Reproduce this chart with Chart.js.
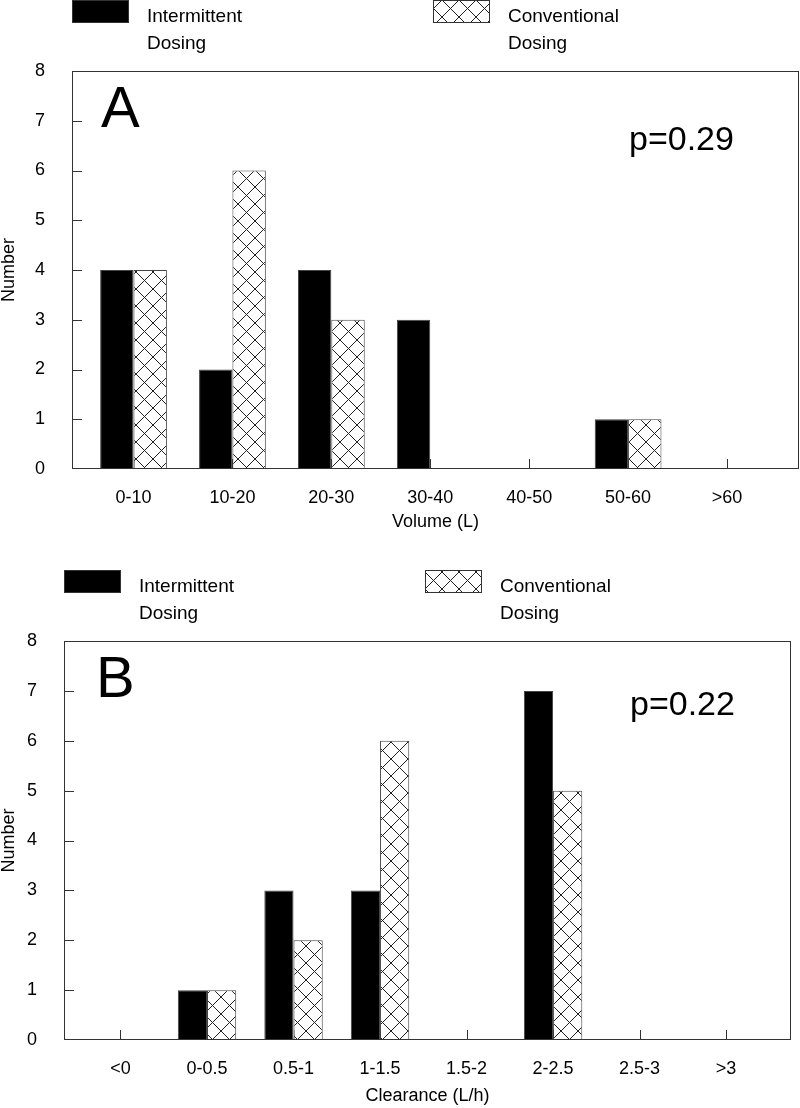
<!DOCTYPE html>
<html>
<head>
<meta charset="utf-8">
<script src="https://cdn.jsdelivr.net/npm/chart.js@4.4.1/dist/chart.umd.min.js"></script>
<style>
  html, body { margin: 0; padding: 0; background: #fff; }
  canvas { display: block; }
</style>
</head>
<body>
<canvas id="chartA" width="800" height="555"></canvas>
<canvas id="chartB" width="800" height="553"></canvas>
<script>
// Panel A - volume
const volumeLabels = ['0-10', '10-20', '20-30', '30-40', '40-50', '50-60', '>60'];
const volumeIntermittent = [4, 2, 4, 3, 0, 1, 0];
const volumeConventional = [4, 6, 3, 0, 0, 1, 0];

// Panel B - clearance
const clearanceLabels = ['<0', '0-0.5', '0.5-1', '1-1.5', '1.5-2', '2-2.5', '2.5-3', '>3'];
const clearanceIntermittent = [0, 1, 3, 3, 0, 7, 0, 0];
const clearanceConventional = [0, 1, 2, 6, 0, 5, 0, 0];

const yTicks = [0, 1, 2, 3, 4, 5, 6, 7, 8];
const seriesNames = [['Intermittent', 'Dosing'], ['Conventional', 'Dosing']];

const FONT = '"Liberation Sans", Arial, sans-serif';
const LINE = '#333';

function makeHatch() {
  const tile = document.createElement('canvas');
  tile.width = 17;
  tile.height = 17;
  const g = tile.getContext('2d');
  g.fillStyle = '#fff';
  g.fillRect(0, 0, 17, 17);
  g.strokeStyle = '#222';
  g.lineWidth = 1;
  g.beginPath();
  g.moveTo(-1, -1); g.lineTo(18, 18);
  g.moveTo(18, -1); g.lineTo(-1, 18);
  g.stroke();
  return g.createPattern(tile, 'repeat');
}
const hatch = makeHatch();

// ticks inside the frame, legend, panel letter and p value
const panelDecor = {
  id: 'panelDecor',
  beforeDatasetsDraw(chart) {
    const { ctx, chartArea: a, scales: { x, y } } = chart;
    ctx.save();
    ctx.strokeStyle = LINE;
    ctx.lineWidth = 1;
    ctx.beginPath();
    y.ticks.forEach(t => {
      if (t.value <= y.min || t.value >= y.max) return;
      const py = Math.round(y.getPixelForValue(t.value)) + 0.5;
      ctx.moveTo(a.left, py);
      ctx.lineTo(a.left + 10, py);
    });
    x.ticks.forEach(t => {
      const px = Math.round(x.getPixelForValue(t.value)) + 0.5;
      ctx.moveTo(px, a.bottom);
      ctx.lineTo(px, a.bottom - 10);
    });
    ctx.stroke();
    ctx.restore();
  },
  afterDatasetsDraw(chart) {
    const { ctx, chartArea: a } = chart;
    ctx.save();
    ctx.strokeStyle = LINE;
    ctx.lineWidth = 1;
    ctx.strokeRect(a.left + 0.5, a.top + 0.5, a.right - a.left - 1, a.bottom - a.top - 1);
    ctx.restore();
  },
  afterDraw(chart, args, o) {
    const { ctx, chartArea: a } = chart;
    ctx.save();
    chart.data.datasets.forEach((ds, i) => {
      const bx = a.left + (i ? 361 : 0);
      const by = a.top - 71;
      ctx.fillStyle = ds.backgroundColor;
      ctx.fillRect(bx, by, 57, 23);
      ctx.strokeStyle = LINE;
      ctx.strokeRect(bx + 0.5, by + 0.5, 56, 22);
      ctx.fillStyle = '#000';
      ctx.font = '19px ' + FONT;
      ctx.textAlign = 'left';
      ctx.textBaseline = 'middle';
      ctx.fillText(ds.label[0], bx + 75, a.top - 54);
      ctx.fillText(ds.label[1], bx + 75, a.top - 27);
    });

    ctx.textBaseline = 'alphabetic';
    ctx.font = '58px ' + FONT;
    ctx.fillText(o.letter, a.left + o.letterX, a.top + 56);
    ctx.font = '34px ' + FONT;
    ctx.fillText(o.pText, a.left + o.pX, a.top + o.pY);
    ctx.restore();
  }
};

function drawPanel(id, labels, inter, conv, cfg) {
  const ctx = document.getElementById(id).getContext('2d');
  return new Chart(ctx, {
    type: 'bar',
    data: {
      datasets: [
        {
          label: seriesNames[0],
          data: inter.map((v, i) => ({ x: i, y: v })),
          backgroundColor: '#000',
          borderColor: '#444',
          borderWidth: 1
        },
        {
          label: seriesNames[1],
          data: conv.map((v, i) => ({ x: i, y: v })),
          backgroundColor: hatch,
          borderColor: '#444',
          borderWidth: 1
        }
      ]
    },
    options: {
      responsive: false,
      animation: false,
      categoryPercentage: 0.675,
      barPercentage: 1,
      layout: { padding: { top: cfg.padTop, right: cfg.padRight, left: 0, bottom: 0 } },
      plugins: {
        legend: { display: false },
        tooltip: { enabled: false },
        panelDecor: { letter: cfg.letter, letterX: cfg.letterX, pText: cfg.pText, pX: cfg.pX, pY: cfg.pY }
      },
      scales: {
        x: {
          type: 'linear',
          offset: false,
          min: cfg.xMin,
          max: cfg.xMax,
          grid: { display: false },
          border: { display: false },
          afterBuildTicks: s => { s.ticks = labels.map((_, i) => ({ value: i })); },
          afterFit: s => { s.height = cfg.xHeight; },
          ticks: {
            autoSkip: false,
            maxRotation: 0,
            padding: 10,
            color: '#000',
            font: { family: FONT, size: 18 },
            callback: v => labels[v]
          },
          title: {
            display: true,
            text: cfg.xTitle,
            color: '#000',
            font: { family: FONT, size: 18 },
            padding: { top: 0, bottom: cfg.titlePad }
          }
        },
        y: {
          min: 0,
          max: 8,
          grid: { display: false },
          border: { display: false },
          afterBuildTicks: s => { s.ticks = yTicks.map(v => ({ value: v })); },
          afterFit: s => { s.width = cfg.yWidth; },
          ticks: {
            padding: 19,
            color: '#000',
            font: { family: FONT, size: 18 }
          },
          title: {
            display: true,
            text: 'Number',
            color: '#000',
            font: { family: FONT, size: 18 },
            padding: { top: -2, bottom: 0 }
          }
        }
      }
    },
    plugins: [panelDecor]
  });
}

drawPanel('chartA', volumeLabels, volumeIntermittent, volumeConventional, {
  xTitle: 'Volume (L)', letter: 'A', letterX: 29, pText: 'p=0.29', pX: 557, pY: 79,
  padTop: 71, padRight: 1, yWidth: 72, xHeight: 86, titlePad: 22, xMin: -0.622, xMax: 6.728
});

drawPanel('chartB', clearanceLabels, clearanceIntermittent, clearanceConventional, {
  xTitle: 'Clearance (L/h)', letter: 'B', letterX: 32, pText: 'p=0.22', pX: 566, pY: 74,
  padTop: 86, padRight: 9, yWidth: 64, xHeight: 68, titlePad: 1, xMin: -0.653, xMax: 7.75
});
</script>
</body>
</html>
